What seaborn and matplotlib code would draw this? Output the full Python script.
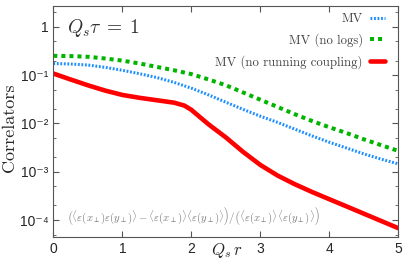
import pandas as pd
import matplotlib
matplotlib.use('Agg')
import matplotlib.pyplot as plt
import matplotlib.ticker as mticker
import seaborn as sns

# Data
x_grid = [0.0, 0.25, 0.5, 0.75, 1.0, 1.25, 1.5, 1.75, 2.0, 2.25, 2.5,
          2.75, 3.0, 3.25, 3.5, 3.75, 4.0, 4.25, 4.5, 4.75, 5.0]
mv = [0.174, 0.170, 0.162, 0.145, 0.126, 0.107, 0.0891, 0.0708, 0.0537, 0.0389, 0.0275,
      0.0195, 0.0141, 0.0105, 0.00759, 0.00550, 0.00407, 0.00309, 0.00234, 0.00182, 0.00145]
mv_no_logs = [0.251, 0.248, 0.240, 0.221, 0.200, 0.174, 0.148, 0.126, 0.105, 0.0813, 0.0617,
              0.0437, 0.0309, 0.0219, 0.0155, 0.0112, 0.00832, 0.00631, 0.00468, 0.00355, 0.00269]
x_red = [0.0, 0.25, 0.5, 0.75, 1.0, 1.25, 1.5, 1.75, 1.9, 2.0, 2.1, 2.25, 2.5,
         2.75, 3.0, 3.25, 3.5, 3.75, 4.0, 4.25, 4.5, 4.75, 5.0]
mv_no_rc = [0.108, 0.0813, 0.0617, 0.0479, 0.0389, 0.0339, 0.0302, 0.0269, 0.0234, 0.0191, 0.01445,
            0.00955, 0.00513, 0.00257, 0.00138, 0.000832, 0.000550, 0.000380, 0.000269,
            0.000191, 0.000135, 0.0000955, 0.0000676]

labels = ['MV', 'MV (no logs)', 'MV (no running coupling)']
colors = ['#1e8fff', '#00b400', '#ff0000']

y_ticks = [1e-4, 1e-3, 1e-2, 1e-1, 1]
y_ticklabels = ['10⁻⁴', '10⁻³', '10⁻²', '10⁻¹', '1']

sns.set_style('ticks')
plt.rcParams['mathtext.fontset'] = 'cm'
plt.rcParams['font.family'] = ['Liberation Sans', 'DejaVu Sans']

fig = plt.figure(figsize=(4.07, 2.61), dpi=100)
ax = fig.add_axes([0.131, 0.091, 0.848, 0.886])

df_mv = pd.DataFrame({'r': x_grid, 'c': mv})
df_nl = pd.DataFrame({'r': x_grid, 'c': mv_no_logs})
df_rc = pd.DataFrame({'r': x_red, 'c': mv_no_rc})

sns.lineplot(data=df_mv, x='r', y='c', ax=ax, color=colors[0], lw=2.2,
             linestyle=(0, (0.6, 0.55)), label=labels[0], estimator=None, sort=False)
sns.lineplot(data=df_nl, x='r', y='c', ax=ax, color=colors[1], lw=2.9,
             linestyle=(0, (1, 1)), label=labels[1], estimator=None, sort=False)
sns.lineplot(data=df_rc, x='r', y='c', ax=ax, color=colors[2], lw=3.3,
             linestyle='-', label=labels[2], estimator=None, sort=False)

ax.set_yscale('log')
ax.set_xlim(0, 5)
ax.set_ylim(4.4e-5, 2.7)
ax.set_yticks(y_ticks)
ax.set_yticklabels(y_ticklabels)
ax.yaxis.set_minor_locator(mticker.LogLocator(base=10, subs=[2, 5]))
ax.yaxis.set_minor_formatter(mticker.NullFormatter())
ax.set_xticks(range(6))
ax.tick_params(axis='both', which='both', direction='in', top=True, right=True,
               labelsize=10, color='#555555')
ax.tick_params(which='major', length=4)
ax.tick_params(which='minor', length=2.5)
for s in ax.spines.values():
    s.set_color('#555555')
    s.set_linewidth(0.8)

ax.set_ylabel('Correlators', fontsize=13, family='cmr10')
ax.yaxis.set_label_coords(-0.105, 0.475)
ax.set_xlabel(r'$Q_s\,r$', fontsize=12)
ax.xaxis.set_label_coords(0.503, -0.015)

ax.text(0.04, 0.905, r'$Q_s\tau\;=\;1$', transform=ax.transAxes, fontsize=14,
        va='center', ha='left', color='#333333')
ax.text(0.04, 0.09,
        r'$\left(\langle\varepsilon(x_\perp)\varepsilon(y_\perp)\rangle - \langle\varepsilon(x_\perp)\rangle\langle\varepsilon(y_\perp)\rangle\right)/\left(\langle\varepsilon(x_\perp)\rangle\langle\varepsilon(y_\perp)\rangle\right)$',
        transform=ax.transAxes, fontsize=7.7, va='center', ha='left', color='#777777')

leg = ax.legend(loc='upper right', bbox_to_anchor=(0.98, 1.0), frameon=False, markerfirst=False,
                handlelength=1.1, handletextpad=0.6, labelspacing=0.65, borderaxespad=0.15,
                prop={'family': 'cmr10', 'size': 9.2})
for t in leg.get_texts():
    t.set_color('#444444')

fig.savefig('out.png', dpi=100)
